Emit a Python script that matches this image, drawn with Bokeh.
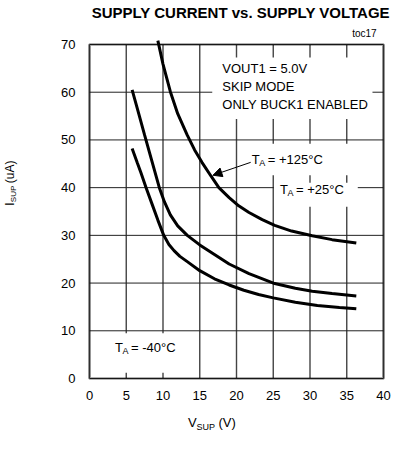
import math
from bokeh.plotting import figure
from bokeh.models import Label, BoxAnnotation, Arrow, NormalHead, FixedTicker, Range1d
from bokeh.embed import file_html
from bokeh.resources import INLINE

# ---- data ----
v_m40 = [5.8, 6.5, 7.0, 7.7, 8.5, 9.3, 10.1, 10.8, 11.5, 12.3, 13.3, 15.0, 17.0, 19.0, 21.0, 23.0, 25.0, 28.0, 31.0, 34.0, 36.3]
i_m40 = [48.2, 45.2, 43.1, 40.0, 36.6, 33.2, 30.0, 28.1, 26.8, 25.6, 24.5, 22.6, 20.9, 19.6, 18.5, 17.6, 16.9, 16.0, 15.3, 14.9, 14.6]

v_25 = [5.8, 6.5, 7.5, 8.5, 9.5, 10.2, 11.0, 12.0, 13.3, 15.0, 17.0, 19.0, 21.7, 25.2, 28.0, 30.3, 33.0, 36.3]
i_25 = [60.5, 56.6, 51.0, 45.5, 40.0, 37.0, 34.3, 32.0, 30.0, 28.0, 26.0, 24.0, 22.0, 19.9, 18.9, 18.3, 17.8, 17.3]

v_125 = [9.3, 10.0, 11.0, 12.0, 13.3, 14.3, 15.3, 16.5, 17.6, 19.0, 20.3, 21.7, 23.5, 25.2, 27.5, 30.3, 33.0, 36.3]
i_125 = [70.8, 65.9, 60.1, 55.5, 51.0, 47.9, 45.3, 42.5, 40.0, 37.9, 36.2, 34.8, 33.3, 32.1, 30.9, 29.9, 29.1, 28.4]

x_ticks = [0, 5, 10, 15, 20, 25, 30, 35, 40]
y_ticks = [0, 10, 20, 30, 40, 50, 60, 70]

FONT = "Liberation Sans"

W, H = 391, 433
# pixel position of the plotting box inside the canvas
BOX_L, BOX_R, BOX_T, BOX_B = 89, 383, 44, 378
x0, x1 = x_ticks[0], x_ticks[-1]
y0, y1 = y_ticks[0], y_ticks[-1]
sx = (BOX_R - BOX_L) / (x1 - x0)
sy = (BOX_B - BOX_T) / (y1 - y0)

p = figure(width=W, height=H,
           x_range=Range1d(x0 - BOX_L / sx, x1 + (W - BOX_R) / sx),
           y_range=Range1d(y0 - (H - BOX_B) / sy, y1 + BOX_T / sy),
           output_backend="svg", toolbar_location=None)
p.min_border = 0
p.min_border_left = 0
p.min_border_right = 0
p.min_border_top = 0
p.min_border_bottom = 0
p.background_fill_color = "white"
p.border_fill_color = "white"
p.outline_line_color = None
p.xgrid.visible = False
p.ygrid.visible = False

p.xaxis.fixed_location = y0
p.yaxis.fixed_location = x0
for ax in (p.xaxis[0], p.yaxis[0]):
    ax.axis_line_color = None
    ax.major_tick_line_color = None
    ax.minor_tick_line_color = None
    ax.major_tick_out = 0
    ax.major_tick_in = 0
    ax.minor_tick_out = 0
    ax.minor_tick_in = 0
    ax.major_label_text_font = FONT
    ax.major_label_text_font_size = "13px"
    ax.major_label_text_color = "black"
p.xaxis.ticker = FixedTicker(ticks=x_ticks)
p.yaxis.ticker = FixedTicker(ticks=y_ticks)
p.xaxis.major_label_standoff = 12
p.yaxis.major_label_standoff = 14

# grid lines spanning the plotting box
p.segment(x0=x_ticks, y0=[y0] * len(x_ticks), x1=x_ticks, y1=[y1] * len(x_ticks),
          line_color="#444444", line_width=1.4)
p.segment(x0=[x0] * len(y_ticks), y0=y_ticks, x1=[x1] * len(y_ticks), y1=y_ticks,
          line_color="#222222", line_width=1.0)

# white boxes interrupting the grid behind the annotations
p.quad(left=[16.7, 21.0, 25.1, 1.7], right=[38.5, 36.5, 36.5, 13.0],
       bottom=[54.4, 42.6, 36.0, 1.2], top=[67.3, 49.2, 41.0, 9.5],
       fill_color="white", line_color=None)

# curves
for vs, cs in [(v_m40, i_m40), (v_25, i_25), (v_125, i_125)]:
    p.line(vs, cs, line_color="black", line_width=3)

# plotting-box border
p.add_layout(BoxAnnotation(left=x0, right=x1, bottom=y0, top=y1, fill_alpha=0,
                           line_color="black", line_width=3))


def lab(x, y, text, size="13px", align="left", baseline="middle", style="normal", angle=0):
    p.add_layout(Label(x=x, y=y, text=text, text_font=FONT, text_font_size=size,
                       text_align=align, text_baseline=baseline, text_font_style=style,
                       angle=angle, text_color="black"))


# title and tag
lab(20.6, 76.65, "SUPPLY CURRENT vs. SUPPLY VOLTAGE", size="15px", align="center", style="bold")
lab(39.06, 72.23, "toc17", size="10px", align="right")

# axis labels
lab(13.40, -9.22, "V", size="13px")
lab(14.56, -10.06, "SUP", size="9px")
lab(17.55, -9.22, "(V)", size="13px")

lab(-10.78, 36.22, "I", size="12px", angle=math.pi / 2)
lab(-10.31, 36.95, "SUP", size="8px", angle=math.pi / 2)
lab(-10.78, 40.93, "(uA)", size="12px", angle=math.pi / 2)

# condition text
lab(18.07, 65.06, "VOUT1 = 5.0V")
lab(18.07, 61.15, "SKIP MODE")
lab(18.07, 57.44, "ONLY BUCK1 ENABLED")

# temperature labels (T, subscript A, rest)
for (xt, xa, xe, yy, txt) in [(22.06, 23.10, 24.25, 45.9, "= +125°C"),
                              (25.91, 26.95, 28.10, 39.7, "= +25°C"),
                              (3.46, 4.50, 5.65, 6.6, "= -40°C")]:
    lab(xt, yy, "T")
    lab(xa, yy - 0.8, "A", size="9px")
    lab(xe, yy, txt)

p.add_layout(Arrow(end=NormalHead(size=9, fill_color="black", line_color="black", line_width=1),
                   x_start=21.93, y_start=45.3, x_end=16.8, y_end=42.6,
                   line_color="black", line_width=1))

open("out.html", "w").write(file_html(p, INLINE))
